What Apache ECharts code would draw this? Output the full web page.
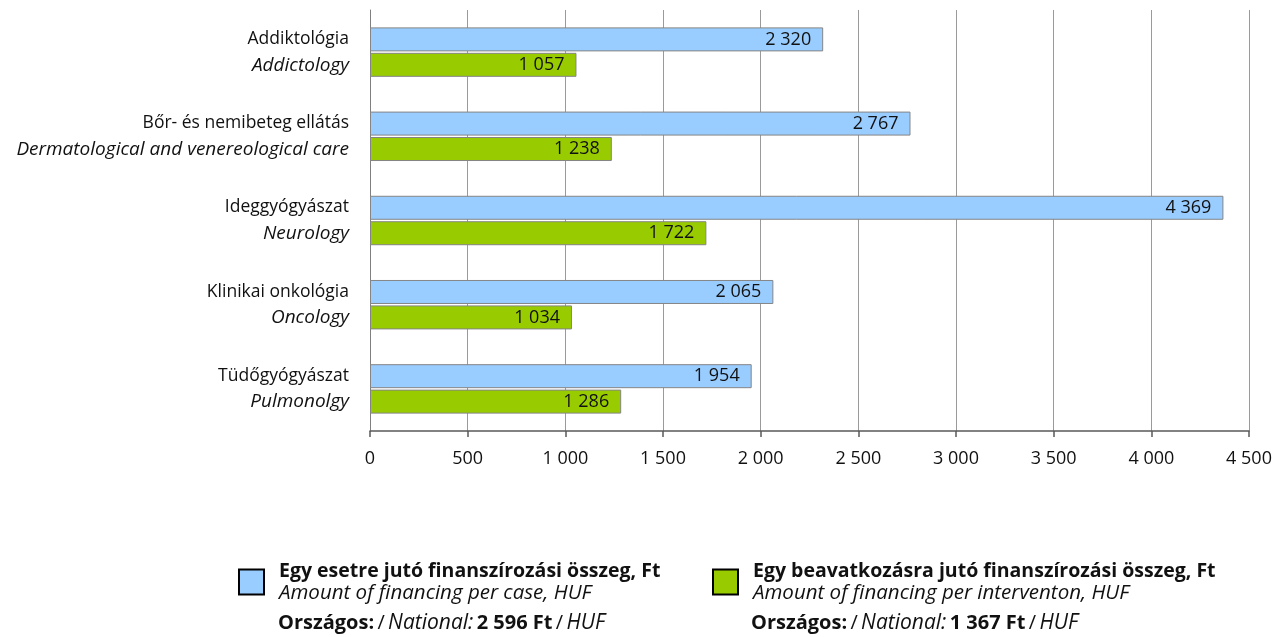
<!DOCTYPE html>
<html>
<head>
<meta charset="utf-8">
<script src="https://cdn.jsdelivr.net/npm/echarts@6/dist/echarts.min.js"></script>
<style>
  html, body { margin: 0; padding: 0; background: #fff; }
  #chart { width: 1285px; height: 637px; }
</style>
</head>
<body>
<div id="chart"></div>
<script>
// 分类（匈牙利语 / 英语）
const categoriesHu = ["Addiktológia", "Bőr- és nemibeteg ellátás", "Ideggyógyászat", "Klinikai onkológia", "Tüdőgyógyászat"];
const categoriesEn = ["Addictology", "Dermatological and venereological care", "Neurology", "Oncology", "Pulmonolgy"];
const perCase = [2320, 2767, 4369, 2065, 1954];
const perIntervention = [1057, 1238, 1722, 1034, 1286];
const seriesNames = ["Egy esetre jutó finanszírozási összeg, Ft", "Egy beavatkozásra jutó finanszírozási összeg, Ft"];
const seriesNamesEn = ["Amount of financing per case, HUF", "Amount of financing per interventon, HUF"];
const nationalValues = ["2 596", "1 367"];

const FONT = "Open Sans";
const TXT = "#111";
const fmt = (v) => String(v).replace(/\B(?=(\d{3})+(?!\d))/g, " ");

const legendRich = {
  b: { fontFamily: FONT, fontSize: 19.5, fontWeight: "bold", color: TXT, lineHeight: 22, padding: [0, 0, 0, 10] },
  i: { fontFamily: FONT, fontSize: 20.5, fontStyle: "italic", color: TXT, lineHeight: 22, padding: [0, 0, 0, 10] },
};

const makeLegend = (idx, left) => ({
  data: [seriesNames[idx]],
  left: left,
  top: 561,
  padding: 0,
  icon: "rect",
  itemWidth: 25,
  itemHeight: 25,
  itemStyle: { borderColor: "#000", borderWidth: 2 },
  formatter: (name) => "{b|" + name + "}\n{i|" + seriesNamesEn[idx] + "}",
  textStyle: { rich: legendRich },
  selectedMode: false,
});

const nationalText = (idx) =>
  "{b|Országos:} {n|/} {i|National:} {b|" + nationalValues[idx] + " Ft} {n|/} {i|HUF}";

const nationalStyle = {
  rich: {
    b: { fontFamily: FONT, fontSize: 20, fontWeight: "bold", fill: TXT },
    n: { fontFamily: FONT, fontSize: 20, fill: TXT },
    i: { fontFamily: FONT, fontSize: 21, fontStyle: "italic", fill: TXT },
  },
};

const options = {
  animation: false,
  textStyle: { fontFamily: FONT },
  grid: { left: 370, right: 36, top: 10, bottom: 206 },
  legend: [makeLegend(0, 238), makeLegend(1, 712)],
  graphic: [
    { type: "text", left: 278, top: 613, style: Object.assign({ text: nationalText(0) }, nationalStyle) },
    { type: "text", left: 751, top: 613, style: Object.assign({ text: nationalText(1) }, nationalStyle) },
  ],
  xAxis: {
    type: "value",
    min: 0,
    max: 4500,
    interval: 500,
    axisLine: { show: true, lineStyle: { color: "#595959", width: 1.5 } },
    axisTick: { show: true, length: 6, lineStyle: { color: "#595959", width: 1.5 } },
    axisLabel: { color: TXT, fontSize: 18, margin: 19, formatter: fmt },
    splitLine: { show: true, lineStyle: { color: "#9a9a9a", width: 1 } },
  },
  yAxis: {
    type: "category",
    inverse: true,
    data: categoriesHu,
    axisLine: { show: true, lineStyle: { color: "#808080", width: 1 } },
    axisTick: { show: false },
    axisLabel: {
      margin: 21,
      formatter: (val, i) => "{a|" + val + "}\n{b|" + categoriesEn[i] + "}",
      rich: {
        a: { fontFamily: FONT, fontSize: 17.5, color: TXT, lineHeight: 26, align: "right" },
        b: { fontFamily: FONT, fontSize: 19, fontStyle: "italic", color: TXT, lineHeight: 26, align: "right" },
      },
    },
  },
  series: [
    {
      name: seriesNames[0],
      type: "bar",
      data: perCase,
      barWidth: 24,
      barGap: "6%",
      itemStyle: { color: "#99CCFF", borderColor: "#858585", borderWidth: 1 },
      label: { show: true, position: "insideRight", distance: 12, color: TXT, fontSize: 18, formatter: (p) => fmt(p.value) },
    },
    {
      name: seriesNames[1],
      type: "bar",
      data: perIntervention,
      barWidth: 24,
      itemStyle: { color: "#99CC00", borderColor: "#858585", borderWidth: 1 },
      label: { show: true, position: "insideRight", distance: 12, color: TXT, fontSize: 18, formatter: (p) => fmt(p.value) },
    },
  ],
};

const chart = echarts.init(document.getElementById("chart"));
chart.setOption(options);
window.addEventListener("resize", () => chart.resize());
</script>
</body>
</html>
